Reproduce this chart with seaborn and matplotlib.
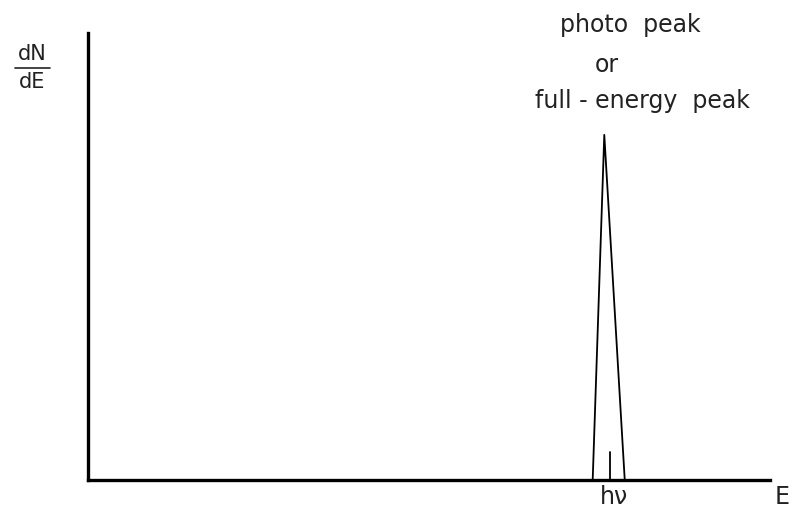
import numpy as np
import pandas as pd
import seaborn as sns
import matplotlib.pyplot as plt
from matplotlib.lines import Line2D

sns.set_style("white")
plt.rcParams['font.family'] = ['DejaVu Sans']

# energy spectrum (arbitrary units): only the full-energy peak
energy = [0.740, 0.757, 0.787]
counts = [0.0, 0.772, 0.0]
# small marker at h-nu
hnu_energy = [0.765, 0.765]
hnu_height = [0.0, 0.063]

df = pd.DataFrame({"E": energy, "dNdE": counts})

fig = plt.figure(figsize=(7.93, 5.15), dpi=100)
ax = fig.add_axes([0.111, 0.068, 0.86, 0.868])

sns.lineplot(data=df, x="E", y="dNdE", color="black", lw=1.3, sort=False, ax=ax)
ax.plot(hnu_energy, hnu_height, color="black", lw=1.3)

ax.set_xlim(0, 1)
ax.set_ylim(0, 1)
ax.set_xticks([])
ax.set_yticks([])
ax.set_xlabel("")
ax.set_ylabel("")
sns.despine(ax=ax)
for s in ["left", "bottom"]:
    ax.spines[s].set_linewidth(2.4)
    ax.spines[s].set_color("black")

col = "#222222"
fs = 17
fig.text(630 / 793, 1 - 25 / 515, "photo  peak", ha="center", va="center", fontsize=fs, color=col)
fig.text(607 / 793, 1 - 65 / 515, "or", ha="center", va="center", fontsize=fs, color=col)
fig.text(642 / 793, 1 - 101 / 515, "full - energy  peak", ha="center", va="center", fontsize=fs, color=col)
fig.text(614 / 793, 1 - 497 / 515, "hν", ha="center", va="center", fontsize=fs, color=col)
fig.text(782 / 793, 1 - 497 / 515, "E", ha="center", va="center", fontsize=fs, color=col)

# dN/dE written as a stacked fraction
fig.text(32 / 793, 1 - 54 / 515, "dN", ha="center", va="center", fontsize=15, color=col)
fig.text(32 / 793, 1 - 82 / 515, "dE", ha="center", va="center", fontsize=15, color=col)
fig.add_artist(Line2D([15 / 793, 50 / 793], [1 - 68 / 515, 1 - 68 / 515],
                      color=col, lw=1.2, transform=fig.transFigure))

fig.savefig("out.png", dpi=100)
